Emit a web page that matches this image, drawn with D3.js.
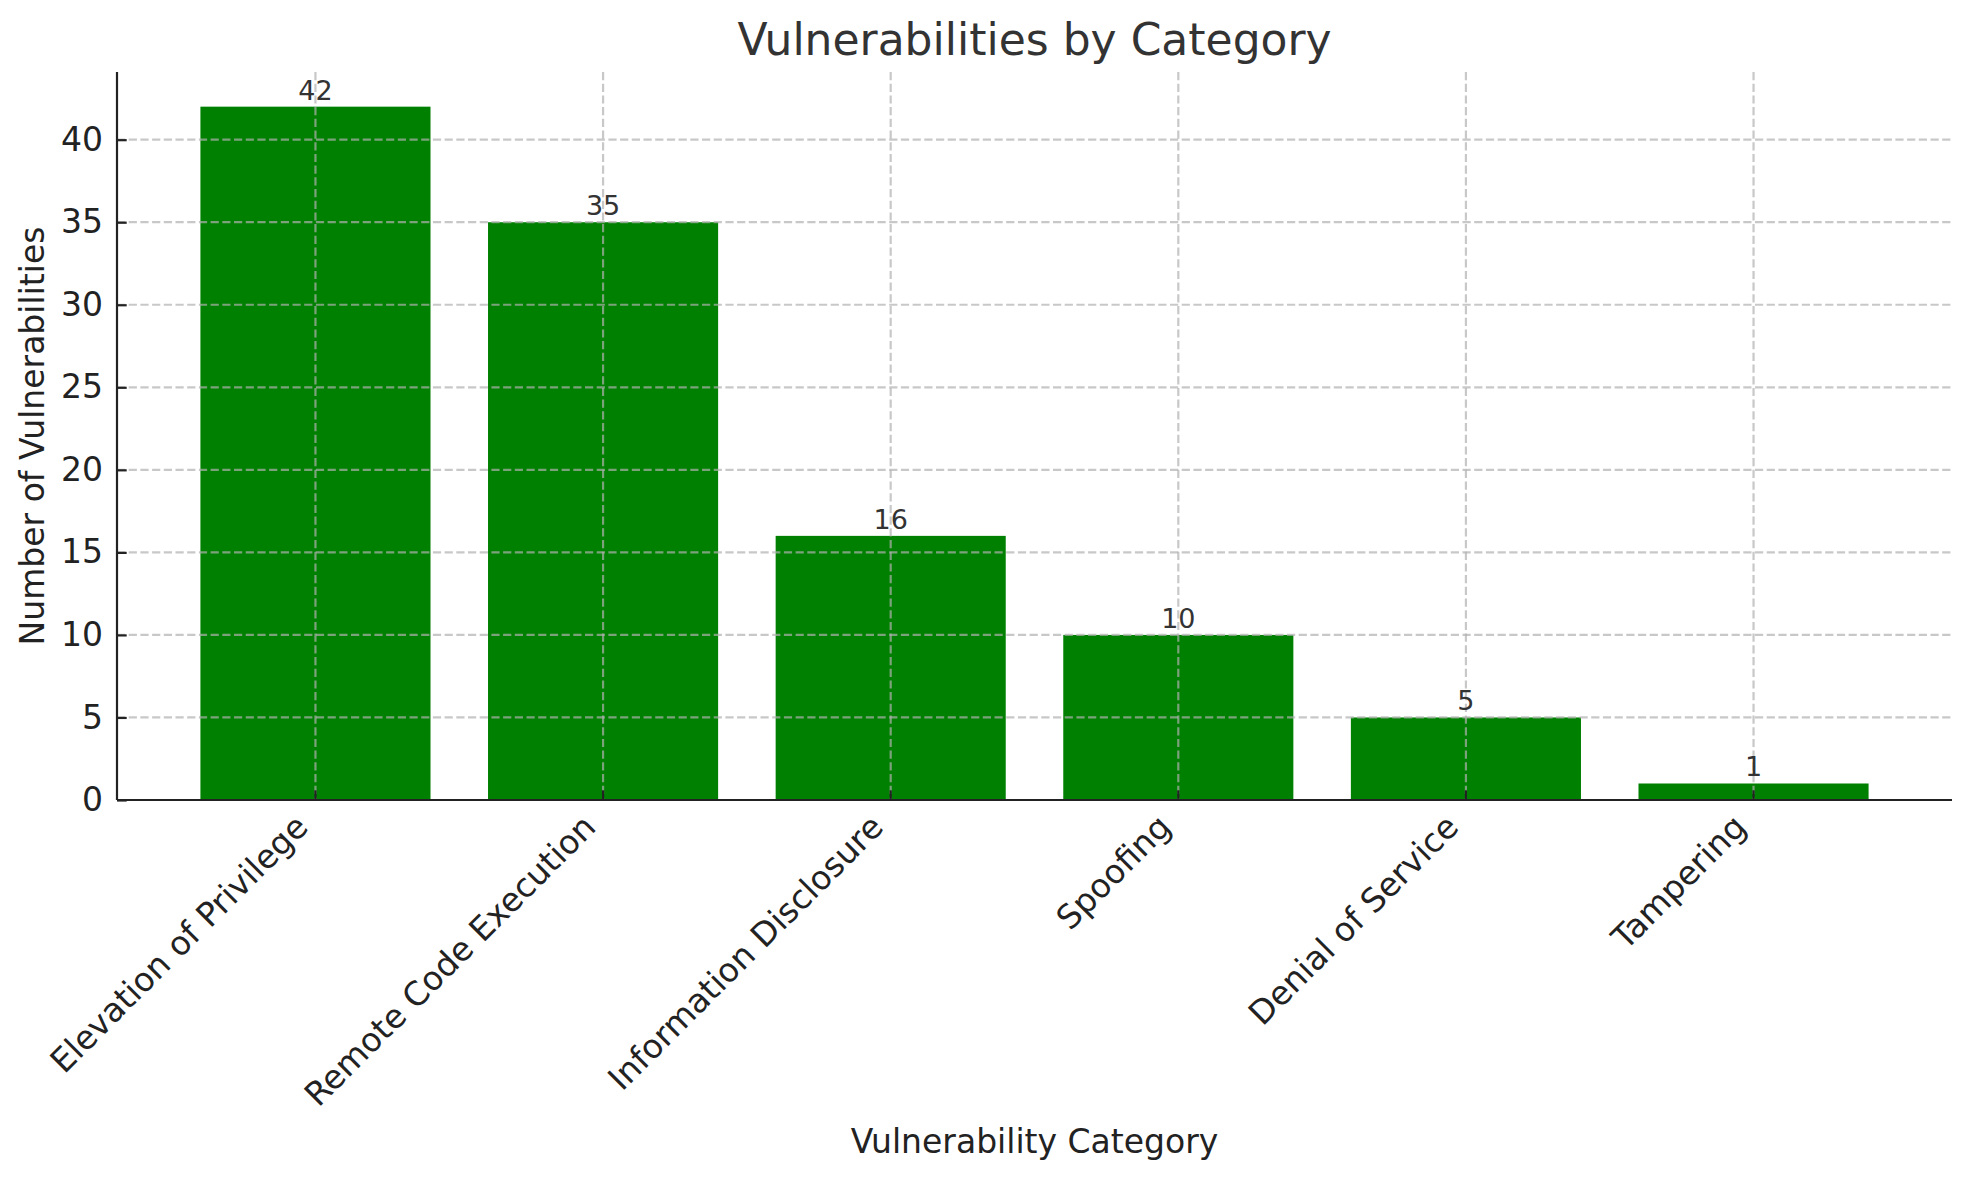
<!DOCTYPE html>
<html>
<head>
<meta charset="utf-8">
<script src="https://cdn.jsdelivr.net/npm/d3@7"></script>
<style>
  html, body { margin: 0; padding: 0; background: #fff; }
  svg text { font-family: 'DejaVu Sans', sans-serif; }
</style>
</head>
<body>
<div class="canvas"></div>
<script>
// data
const categories = [
  'Elevation of Privilege',
  'Remote Code Execution',
  'Information Disclosure',
  'Spoofing',
  'Denial of Service',
  'Tampering',
]
const counts = [42, 35, 16, 10, 5, 1]
const yTicks = [0, 5, 10, 15, 20, 25, 30, 35, 40]

const dims = { width: 1972, height: 1180 }
const plot = { left: 117, right: 1952, top: 72, bottom: 800 }

const svg = d3
  .select('.canvas')
  .append('svg')
  .attr('width', dims.width)
  .attr('height', dims.height)

// matplotlib-like band: bar width 0.8, margins 5% of data range
const x = d3
  .scaleBand()
  .domain(categories)
  .range([plot.left, plot.right])
  .paddingInner(0.2)
  .paddingOuter(0.29)

const y = d3
  .scaleLinear()
  .domain([0, d3.max(counts) * 1.05])
  .range([plot.bottom, plot.top])

const data = categories.map((c, i) => ({ name: c, count: counts[i] }))

// bars
svg
  .append('g')
  .selectAll('rect')
  .data(data)
  .enter()
  .append('rect')
  .attr('x', (d) => x(d.name))
  .attr('y', (d) => y(d.count))
  .attr('width', x.bandwidth())
  .attr('height', (d) => y(0) - y(d.count))
  .attr('fill', '#008000')

// grid on top of bars, dashed
const grid = svg
  .append('g')
  .attr('stroke', '#b0b0b0')
  .attr('stroke-opacity', 0.7)
  .attr('stroke-width', 2.2)
  .attr('stroke-dasharray', '8.2,3.5')

grid
  .selectAll('.hgrid')
  .data(yTicks)
  .enter()
  .append('line')
  .attr('x1', plot.left)
  .attr('x2', plot.right)
  .attr('y1', (d) => y(d))
  .attr('y2', (d) => y(d))

grid
  .selectAll('.vgrid')
  .data(categories)
  .enter()
  .append('line')
  .attr('x1', (d) => x(d) + x.bandwidth() / 2)
  .attr('x2', (d) => x(d) + x.bandwidth() / 2)
  .attr('y1', plot.top)
  .attr('y2', plot.bottom)

// value labels
svg
  .append('g')
  .selectAll('text')
  .data(data)
  .enter()
  .append('text')
  .attr('x', (d) => x(d.name) + x.bandwidth() / 2)
  .attr('y', (d) => y(d.count) - 7)
  .attr('text-anchor', 'middle')
  .attr('font-size', 27)
  .attr('fill', '#333')
  .text((d) => d.count)

// y axis, inward ticks
const yAxis = svg
  .append('g')
  .attr('transform', `translate(${plot.left},0)`)
  .call(d3.axisLeft(y).tickValues(yTicks).tickSizeInner(-9.7).tickSizeOuter(0).tickPadding(14))
yAxis.select('.domain').remove()
yAxis.selectAll('line').attr('stroke', '#222').attr('stroke-width', 2.2)
yAxis.selectAll('text').attr('font-size', 33).attr('fill', '#222').attr('font-family', 'DejaVu Sans')

// x axis, inward ticks, labels rotated 45 and right aligned
const xAxis = svg
  .append('g')
  .attr('transform', `translate(0,${plot.bottom})`)
  .call(d3.axisBottom(x).tickSizeInner(-9.7).tickSizeOuter(0))
xAxis.select('.domain').remove()
xAxis.selectAll('line').attr('stroke', '#222').attr('stroke-width', 2.2)
xAxis
  .selectAll('text')
  .attr('font-size', 33)
  .attr('fill', '#222')
  .attr('font-family', 'DejaVu Sans')
  .attr('text-anchor', 'end')
  .attr('y', 0)
  .attr('dy', 0)
  .attr('transform', 'translate(-5.5,29) rotate(-45)')

// spines: left and bottom only
svg
  .append('line')
  .attr('x1', plot.left)
  .attr('x2', plot.left)
  .attr('y1', plot.top)
  .attr('y2', plot.bottom)
  .attr('stroke', '#222')
  .attr('stroke-width', 2.2)
svg
  .append('line')
  .attr('x1', plot.left)
  .attr('x2', plot.right)
  .attr('y1', plot.bottom)
  .attr('y2', plot.bottom)
  .attr('stroke', '#222')
  .attr('stroke-width', 2.2)

// titles
const midX = (plot.left + plot.right) / 2
svg
  .append('text')
  .attr('x', midX)
  .attr('y', 55)
  .attr('text-anchor', 'middle')
  .attr('font-size', 44)
  .attr('fill', '#333')
  .text('Vulnerabilities by Category')

svg
  .append('text')
  .attr('x', midX)
  .attr('y', 1153)
  .attr('text-anchor', 'middle')
  .attr('font-size', 33)
  .attr('fill', '#222')
  .text('Vulnerability Category')

svg
  .append('text')
  .attr('transform', `translate(44,${(plot.top + plot.bottom) / 2}) rotate(-90)`)
  .attr('text-anchor', 'middle')
  .attr('font-size', 33)
  .attr('fill', '#222')
  .text('Number of Vulnerabilities')
</script>
</body>
</html>
